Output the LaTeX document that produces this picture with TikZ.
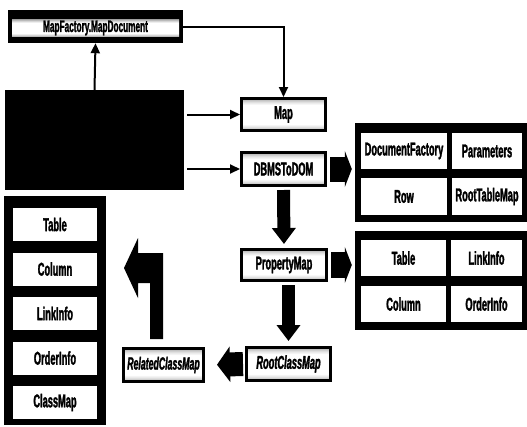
\documentclass[tikz,border=0pt]{standalone}
\usepackage{fontspec}
\usetikzlibrary{arrows.meta}
\newfontfamily\cnd[FakeStretch=0.5, FakeBold=1.6]{Liberation Sans}
\pgfdeclareverticalshading{bandshade}{100bp}{color(0bp)=(gray!65); color(25bp)=(gray!65); color(31bp)=(gray!20); color(35bp)=(white); color(65bp)=(white); color(69bp)=(gray!20); color(75bp)=(gray!65); color(100bp)=(gray!65)}
\tikzset{
  lbl/.style={font=\cnd\bfseries\fontsize{18.5pt}{19pt}\selectfont, text=black},
  gbox/.style={lbl, draw=black, line width=3pt, shade, shading=bandshade, inner sep=0pt},
  cell/.style={lbl, fill=white, inner sep=0pt},
  blk/.style={fill=black, inner sep=0pt},
  tarrow/.style={line width=2pt, -{Triangle[length=10pt,width=9pt]}},
  barrow/.style={line width=25pt, -{Triangle[length=7pt,width=36pt]}},
  darrow/.style={line width=13pt, -{Triangle[length=16pt,width=23pt]}}
}
\begin{document}
\begin{tikzpicture}[x=1pt,y=-1pt]
\useasboundingbox[fill=white] (0,0) rectangle (527,426);

% MapFactory.MapDocument
\node[blk, minimum width=175pt, minimum height=33pt] (mf) at (95.5,26.5) {};
\node[lbl, shade, shading=bandshade, inner sep=0pt, minimum width=167pt, minimum height=17pt,
      font=\cnd\bfseries\fontsize{16.5pt}{16pt}\selectfont] (mfi) at (95.5,28) {MapFactory.MapDocument};

% dark source block
\node[blk, minimum width=179pt, minimum height=100pt] (src) at (94.5,140) {};

% main chain
\node[gbox, minimum width=84pt, minimum height=32pt] (map) at (283.5,114.5) {Map};
\node[gbox, minimum width=84pt, minimum height=33pt] (dbms) at (283.5,169) {DBMSToDOM};
\node[gbox, minimum width=85pt, minimum height=31pt] (prop) at (284,265) {PropertyMap};
\node[gbox, minimum width=84pt, minimum height=33pt, font=\cnd\bfseries\itshape\fontsize{18.5pt}{19pt}\selectfont] (root) at (288.5,364) {RootClassMap};
\node[gbox, minimum width=80pt, minimum height=33pt, font=\cnd\bfseries\itshape\fontsize{17.5pt}{19pt}\selectfont] (rel) at (163.5,365) {RelatedClassMap};

% right group 1
\node[blk, minimum width=172pt, minimum height=99pt] (g1) at (441,172.5) {};
\node[cell, minimum width=86pt, minimum height=36pt] (df) at (404,151) {DocumentFactory};
\node[cell, minimum width=70pt, minimum height=36pt] (par) at (487,151) {Parameters};
\node[cell, minimum width=86pt, minimum height=37pt] (row) at (404,196.5) {Row};
\node[cell, minimum width=70pt, minimum height=37pt] (rtm) at (487,196.5) {RootTableMap};

% right group 2
\node[blk, minimum width=172pt, minimum height=99pt] (g2) at (441,280.5) {};
\node[cell, minimum width=85pt, minimum height=36pt] (t2) at (403.5,258) {Table};
\node[cell, minimum width=71pt, minimum height=36pt] (li2) at (486.5,258) {LinkInfo};
\node[cell, minimum width=85pt, minimum height=36pt] (c2) at (403.5,304) {Column};
\node[cell, minimum width=71pt, minimum height=36pt] (oi2) at (486.5,304) {OrderInfo};

% left group
\node[blk, minimum width=102pt, minimum height=229pt] (g3) at (55,310.5) {};
\node[cell, minimum width=84pt, minimum height=33pt] (t3) at (55,224.5) {Table};
\node[cell, minimum width=84pt, minimum height=33pt] (c3) at (55,269) {Column};
\node[cell, minimum width=84pt, minimum height=33pt] (li3) at (55,313.5) {LinkInfo};
\node[cell, minimum width=84pt, minimum height=33pt] (oi3) at (55,358) {OrderInfo};
\node[cell, minimum width=84pt, minimum height=33pt] (cm3) at (55,402.5) {ClassMap};

% thin arrows
\draw[tarrow] (src.north) -- (mf.south);
\draw[tarrow] (mf.east) -| (map.north);
\draw[tarrow, shorten <=3pt] (src.east |- map.west) -- (map.west);
\draw[tarrow, shorten <=3pt] (src.east |- dbms.west) -- (dbms.west);

% block arrows
\draw[barrow, shorten <=3pt, shorten >=3pt] (dbms.east) -- (dbms.east -| g1.west);
\draw[barrow, line width=26pt, shorten <=3pt, shorten >=3pt] (prop.east) -- (prop.east -| g2.west);
\draw[darrow, shorten <=3pt, shorten >=4pt] (dbms.south) -- (prop.north);
\draw[darrow, shorten <=3pt, shorten >=5pt] (root.north |- prop.south) -- (root.north);
\draw[line width=24pt, -{Triangle[length=13pt,width=35pt]}, shorten <=2pt, shorten >=12pt] (root.west) -- (rel.east);

% bent arrow from RelatedClassMap towards the left group
\fill[black] (163,253) -- (163,339) -- (150,339) -- (150,283) -- (138,283) -- (138,298)
  -- (124,268) -- (138,238) -- (138,253) -- cycle;
\end{tikzpicture}
\end{document}
